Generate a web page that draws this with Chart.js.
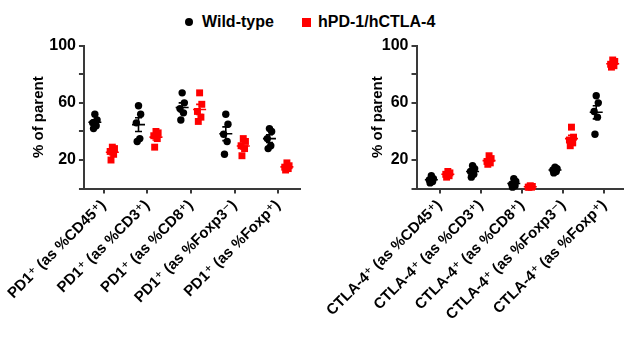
<!DOCTYPE html>
<html>
<head>
<meta charset="utf-8">
<script src="https://cdn.jsdelivr.net/npm/chart.js@4.4.1/dist/chart.umd.min.js"></script>
<style>
  html, body { margin: 0; padding: 0; background: #fff; }
  #wrap { position: relative; width: 635px; height: 364px; overflow: hidden; font-family: "Liberation Sans", Arial, sans-serif; }
  canvas { position: absolute; top: 0; }
  .leg { position: absolute; top: 12px; font-weight: bold; font-size: 16px; line-height: 20px; color: #000; white-space: nowrap; }
  .dot { position: absolute; width: 8px; height: 8px; border-radius: 50%; background: #000; top: 18px; }
  .sq { position: absolute; width: 9px; height: 9px; background: #ff0000; top: 17.5px; }
</style>
</head>
<body>
<div id="wrap">
  <div class="dot" style="left:185px"></div>
  <div class="leg" style="left:202px">Wild-type</div>
  <div class="sq" style="left:301.5px"></div>
  <div class="leg" style="left:318px">hPD-1/hCTLA-4</div>
  <canvas id="c1" width="317" height="364" style="left:0"></canvas>
  <canvas id="c2" width="318" height="364" style="left:317px"></canvas>
</div>
<script>
// ---------- data ----------
const seriesNames = ["Wild-type", "hPD-1/hCTLA-4"];
const pdCategories = ["PD1\u207A (as %CD45\u207A)", "PD1\u207A (as %CD3\u207A)", "PD1\u207A (as %CD8\u207A)", "PD1\u207A (as %Foxp3\u207B)", "PD1\u207A (as %Foxp\u207A)"];
const ctlaCategories = ["CTLA-4\u207A (as %CD45\u207A)", "CTLA-4\u207A (as %CD3\u207A)", "CTLA-4\u207A (as %CD8\u207A)", "CTLA-4\u207A (as %Foxp3\u207B)", "CTLA-4\u207A (as %Foxp\u207A)"];
const yTickLabels = [20, 60, 100];

const pdWildType = [
  [52, 48, 46, 44, 42],
  [58, 52, 46, 35, 33],
  [67, 60, 56, 53, 48],
  [52, 45, 38, 33, 24],
  [42, 40, 35, 30, 28]
];
const pdHuman = [
  [29, 28, 26, 24, 20],
  [40, 39, 37, 35, 29],
  [67, 59, 54, 50, 47],
  [35, 33, 30, 28, 23],
  [18, 16, 15, 14, 13]
];
const ctlaWildType = [
  [9, 7, 6, 5, 4],
  [16, 14, 12, 10, 8],
  [7, 5, 3, 2, 1],
  [15, 14, 13, 12, 11],
  [65, 60, 54, 50, 38]
];
const ctlaHuman = [
  [12, 11, 10, 9, 8],
  [23, 21, 19, 18, 17],
  [2, 1.5, 1, 1, 1],
  [43, 36, 34, 32, 30],
  [90, 89, 87, 86, 85]
];

// ---------- styling / layout ----------
const jitter = [0, 0.05, -0.05, 0.03, -0.03];
const FONT = "'Liberation Sans', Arial, 'DejaVu Sans', sans-serif";
const AXIS = '#3a3a3a';

function makeDataset(name, groups, offset, color, style, radius) {
  const pts = [];
  groups.forEach((vals, i) => vals.forEach((v, j) => pts.push({x: i + offset + jitter[j % jitter.length], y: v})));
  return {
    label: name, data: pts, groups: groups, offset: offset,
    backgroundColor: color, borderColor: color, borderWidth: 0,
    pointStyle: style, pointRadius: radius, clip: false
  };
}

const meanSem = {
  id: 'meanSem',
  afterDatasetsDraw(chart) {
    const {ctx, scales: {x, y}} = chart;
    ctx.save();
    chart.data.datasets.forEach(ds => {
      ctx.strokeStyle = ds.borderColor;
      ctx.lineWidth = 1.6;
      ds.groups.forEach((vals, i) => {
        const n = vals.length;
        const m = vals.reduce((a, b) => a + b, 0) / n;
        const sd = Math.sqrt(vals.reduce((a, b) => a + (b - m) * (b - m), 0) / (n - 1));
        const se = sd / Math.sqrt(n);
        const cx = x.getPixelForValue(i + ds.offset);
        const ym = y.getPixelForValue(m);
        const yt = y.getPixelForValue(m + se);
        const yb = y.getPixelForValue(m - se);
        ctx.beginPath();
        ctx.moveTo(cx - 6.5, ym); ctx.lineTo(cx + 6.5, ym);
        ctx.moveTo(cx, yt); ctx.lineTo(cx, yb);
        ctx.moveTo(cx - 3.5, yt); ctx.lineTo(cx + 3.5, yt);
        ctx.moveTo(cx - 3.5, yb); ctx.lineTo(cx + 3.5, yb);
        ctx.stroke();
      });
    });
    ctx.restore();
  }
};

function makeChart(id, cats, wt, hu, opt) {
  return new Chart(document.getElementById(id), {
    type: 'scatter',
    data: {
      datasets: [
        makeDataset(seriesNames[0], wt, -0.2, '#000000', 'circle', 3.7),
        makeDataset(seriesNames[1], hu, 0.2, '#ff0000', 'rect', 4.9)
      ]
    },
    options: {
      responsive: false,
      animation: false,
      events: [],
      layout: { padding: { top: 45.7, right: opt.padRight, bottom: 0, left: 0 } },
      plugins: { legend: { display: false }, tooltip: { enabled: false } },
      scales: {
        x: {
          type: 'linear', min: opt.xmin, max: opt.xmax,
          afterBuildTicks: s => { s.ticks = cats.map((c, i) => ({value: i})); },
          afterFit: s => { s.height = 364 - 188.6; },
          border: { display: true, color: AXIS, width: 2 },
          grid: { drawOnChartArea: false, drawTicks: true, tickLength: 5, color: AXIS, lineWidth: 2 },
          ticks: {
            autoSkip: false, maxRotation: 45, minRotation: 45, padding: 3,
            color: '#000', font: { family: FONT, size: 15, weight: 'bold' },
            callback: v => cats[Math.round(v)]
          }
        },
        y: {
          min: 0, max: 100,
          afterFit: s => { s.width = opt.yWidth; },
          border: { display: true, color: AXIS, width: 2 },
          grid: { drawOnChartArea: false, drawTicks: true, tickLength: 5, color: AXIS, lineWidth: 2 },
          ticks: {
            stepSize: 20, padding: 3, color: '#000',
            font: { family: FONT, size: 16, weight: 'bold' },
            callback: v => yTickLabels.includes(v) ? String(v) : ''
          },
          title: {
            display: true, text: '% of parent', color: '#000',
            font: { family: FONT, size: 15, weight: 'bold' },
            padding: { top: opt.titlePad, bottom: 0 }
          }
        }
      }
    },
    plugins: [meanSem]
  });
}

makeChart('c1', pdCategories, pdWildType, pdHuman, { xmin: -0.45, xmax: 4.5, padRight: 17, yWidth: 82, titlePad: 27.7 });
makeChart('c2', ctlaCategories, ctlaWildType, ctlaHuman, { xmin: -0.56, xmax: 4.45, padRight: 12, yWidth: 84, titlePad: 36 });
</script>
</body>
</html>
